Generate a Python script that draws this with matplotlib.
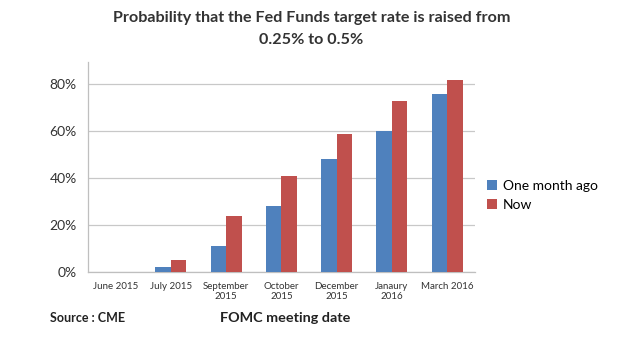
import numpy as np
import matplotlib.pyplot as plt
from matplotlib.ticker import PercentFormatter

plt.rcParams['font.family'] = ['Lato', 'DejaVu Sans']

# FOMC meeting dates and probabilities (%)
meetings = ["June 2015", "July 2015", "September\n2015", "October\n2015",
            "December\n2015", "Janaury\n2016", "March 2016"]
month_ago = [0, 2, 11, 28, 48, 60, 76]
now = [0, 5, 24, 41, 59, 73, 82]

blue = "#4F81BD"
red = "#C0504D"

fig = plt.figure(figsize=(6.19, 3.6), dpi=100)
ax = fig.add_axes([0.142, 0.244, 0.625, 0.584])

x = np.arange(len(meetings))
w = 0.28
ax.bar(x - w / 2, month_ago, w, color=blue, label="One month ago", zorder=3)
ax.bar(x + w / 2, now, w, color=red, label="Now", zorder=3)

ax.set_xlim(-0.5, len(meetings) - 0.5)
ax.set_ylim(0, 89.5)
ax.set_yticks([0, 20, 40, 60, 80])
ax.yaxis.set_major_formatter(PercentFormatter(decimals=0))
ax.grid(axis="y", color="#c8c8c8", linewidth=0.9, zorder=0)
ax.set_xticks(x)
ax.set_xticklabels(meetings, fontsize=7, color="#333333", linespacing=1.2)
ax.tick_params(axis="x", length=0, pad=7)
ax.tick_params(axis="y", length=0, pad=8, labelsize=10, labelcolor="#333333")

for side in ["top", "right"]:
    ax.spines[side].set_visible(False)
for side in ["left", "bottom"]:
    ax.spines[side].set_color("#bfbfbf")
    ax.spines[side].set_linewidth(0.9)

ax.legend(loc="center left", bbox_to_anchor=(1.0, 0.365), frameon=False,
          fontsize=10, handlelength=0.7, handleheight=0.7, handletextpad=0.4,
          labelspacing=0.5)

fig.text(0.503, 0.95, "Probability that the Fed Funds target rate is raised from",
         ha="center", va="center", fontsize=11.6, fontweight="bold", color="#333333")
fig.text(0.503, 0.888, "0.25% to 0.5%",
         ha="center", va="center", fontsize=11.6, fontweight="bold", color="#333333")

fig.text(0.081, 0.117, "Source : CME", ha="left", va="center",
         fontsize=9, fontweight="bold", color="#222222")
fig.text(0.461, 0.117, "FOMC meeting date", ha="center", va="center",
         fontsize=10.4, fontweight="bold", color="#222222")

fig.savefig("out.png", dpi=100)
